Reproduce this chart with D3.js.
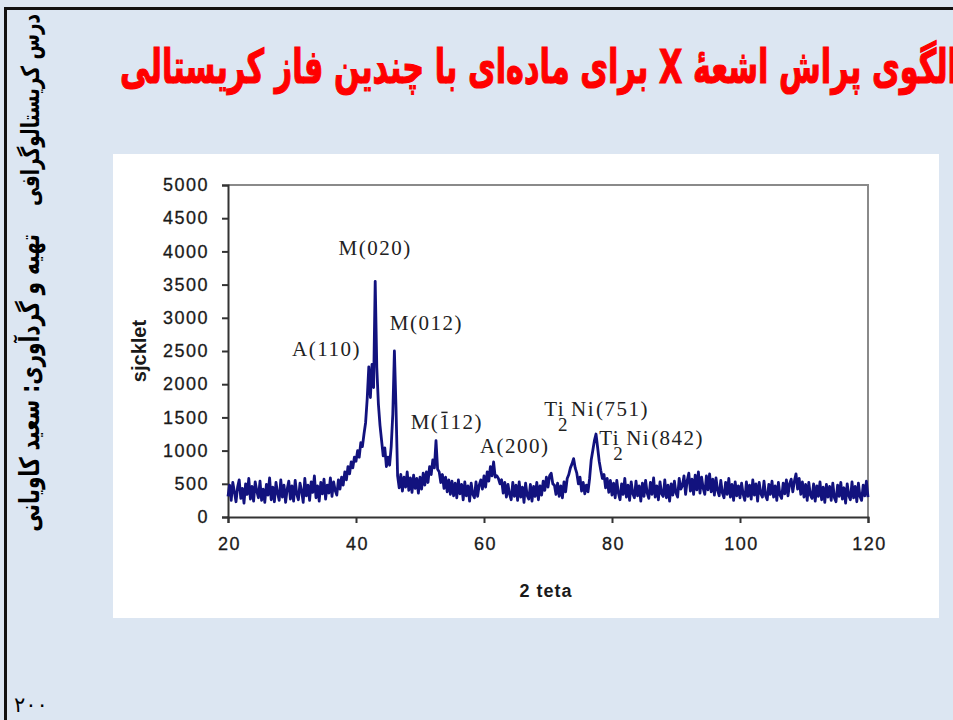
<!DOCTYPE html>
<html>
<head>
<meta charset="utf-8">
<script src="https://cdn.jsdelivr.net/npm/d3@7"></script>
<style>
  html, body { margin: 0; padding: 0; background: #dce6f2; }
  svg { display: block; }
</style>
</head>
<body>
<svg id="slide" width="953" height="720"></svg>
<script>
// ---- Scan data: 2θ from 20° to 120°, step 0.25° ----
const scanStart = 20;
const scanStep = 0.25;
const intensity = [
  // 20 – 24.75
  310, 480, 250, 520, 380, 230, 450, 560, 280, 430, 210, 500, 340, 580, 270, 460, 240, 530, 390, 290,
  // 25 – 29.75
  540, 250, 420, 220, 490, 330, 590, 260, 450, 230, 520, 360, 250, 560, 300, 480, 220, 420, 540, 270,
  // 30 – 34.75
  470, 240, 550, 340, 260, 510, 390, 220, 580, 320, 480, 250, 530, 370, 620, 290, 470, 240, 520, 350,
  // 35 – 39.75
  570, 270, 480, 360, 590, 310, 530, 400, 330, 560, 420, 600, 480, 680, 560, 760, 650, 830, 740, 900,
  // 40 – 44.75
  840, 1000, 900, 1120, 1060, 1250, 1420, 1780, 2260, 1800, 2300, 1950, 3550, 2250, 1700, 1380, 1150, 920, 1040, 760,
  // 45 – 49.75
  900, 780, 1060, 1550, 2500, 1650, 620, 440, 640, 390, 600, 450, 680, 400, 590, 370, 630, 430, 580, 360,
  // 50 – 54.75
  600, 420, 660, 480, 680, 520, 760, 640, 860, 740, 1150, 720, 680, 520, 640, 430, 600, 380, 560, 340,
  // 55 – 59.75
  540, 320, 510, 290, 560, 350, 490, 260, 530, 320, 470, 240, 510, 340, 290, 530, 310, 480, 560, 420,
  // 60 – 64.75
  620, 450, 680, 540, 760, 620, 830, 600, 620, 580, 500, 560, 360, 520, 300, 490, 340, 260, 520, 310,
  // 65 – 69.75
  480, 250, 530, 300, 450, 220, 510, 320, 270, 490, 240, 460, 310, 520, 260, 470, 330, 540, 400, 600,
  // 70 – 74.75
  450, 620, 660, 500, 480, 340, 510, 310, 470, 290, 530, 380, 580, 640, 740, 800, 880, 740, 660, 500,
  // 75 – 79.75
  600, 390, 520, 350, 480, 380, 580, 860, 1000, 1150, 1250, 1050, 840, 700, 580, 640, 440, 580, 370, 550,
  // 80 – 84.75
  330, 510, 290, 550, 360, 260, 500, 340, 580, 300, 480, 250, 530, 350, 290, 540, 320, 470, 240, 510,
  // 85 – 89.75
  310, 550, 360, 280, 520, 340, 590, 300, 470, 260, 530, 350, 310, 560, 290, 480, 240, 500, 330, 540,
  // 90 – 94.75
  360, 300, 580, 420, 470, 620, 340, 550, 660, 390, 570, 340, 630, 410, 680, 360, 600, 430, 340, 620,
  // 95 – 99.75
  410, 650, 380, 570, 330, 590, 400, 320, 550, 360, 290, 520, 340, 580, 300, 490, 250, 530, 320, 470,
  // 100 – 104.75
  290, 510, 340, 250, 530, 310, 480, 270, 560, 330, 500, 240, 520, 350, 300, 540, 320, 260, 490, 340,
  // 105 – 109.75
  540, 300, 470, 250, 520, 330, 280, 510, 350, 560, 320, 500, 570, 380, 540, 650, 420, 580, 340, 530,
  // 110 – 114.75
  300, 490, 250, 520, 330, 280, 500, 240, 470, 310, 530, 260, 450, 220, 490, 300, 460, 250, 510, 290,
  // 115 – 119.75
  230, 480, 310, 520, 270, 440, 210, 500, 320, 260, 530, 290, 460, 230, 510, 310, 250, 480, 320, 540,
  // 120
  300
];

const xTicks = [20, 40, 60, 80, 100, 120];
const yTicks = [0, 500, 1000, 1500, 2000, 2500, 3000, 3500, 4000, 4500, 5000];

// Peak labels: text, and the 2θ / intensity of the label's anchor point
const peakLabels = ["A(110)", "M(020)", "M(012)", "M(112)", "A(200)"];
const peakLabelX = [35.4, 43.0, 51.0, 54.2, 64.8];
const peakLabelY = [2530, 4050, 2920, 1430, 1070];
const phaseLabels = ["(751)", "(842)"];
const phaseLabelX = [69.4, 78.0];
const phaseLabelY = [1630, 1190];

const titleText = "الگوی پراش اشعهٔ X برای ماده‌ای با چندین فاز کریستالی";
const sideCourse = "درس کریستالوگرافی";
const sideAuthor = "تهیه و گردآوری: سعید کاویانی";
const pageNumber = "۲۰۰";
const xLabel = "2 teta";
const yLabel = "sjcklet";

// ---- Slide ----
const svg = d3.select("#slide");

svg.append("rect").attr("width", 953).attr("height", 720).attr("fill", "#dce6f2");
// slide frame
svg.append("line").attr("x1", 5).attr("x2", 953).attr("y1", 8.5).attr("y2", 8.5)
  .attr("stroke", "#111").attr("stroke-width", 3);
svg.append("line").attr("x1", 5.5).attr("x2", 5.5).attr("y1", 7).attr("y2", 720)
  .attr("stroke", "#111").attr("stroke-width", 3);

// title: bold red, stretched vertically, right end running off the slide
const titleG = svg.append("g").attr("transform", "translate(958,83) scale(1,1.55)");
const title = titleG.append("text")
  .attr("direction", "rtl")
  .attr("text-anchor", "start")
  .attr("fill", "#ff0000")
  .attr("stroke", "#ff0000")
  .attr("stroke-width", 0.8)
  .attr("font-family", "DejaVu Sans")
  .attr("font-weight", "bold")
  .attr("font-size", 34)
  .text(titleText);
{
  const w = title.node().getComputedTextLength();
  title.attr("font-size", 34 * 838 / w);
}

// side texts, rotated so the start of each line sits at the top
function sideTextTop(str, yTop, yBottom) {
  const len = yBottom - yTop;
  const g = svg.append("g").attr("transform", `translate(39,${yTop}) rotate(-90) scale(1,1.35)`);
  const t = g.append("text")
    .attr("direction", "rtl")
    .attr("text-anchor", "start")
    .attr("font-family", "DejaVu Sans")
    .attr("font-weight", "bold")
    .attr("font-size", 16)
    .attr("fill", "#000")
    .text(str);
  const w = t.node().getComputedTextLength();
  t.attr("font-size", 16 * len / w);
}
sideTextTop(sideCourse, 14, 206);
sideTextTop(sideAuthor, 234, 532);

svg.append("text")
  .attr("x", 14).attr("y", 712)
  .attr("font-family", "DejaVu Sans")
  .attr("font-size", 21)
  .attr("letter-spacing", 7)
  .attr("fill", "#000")
  .text(pageNumber);

// ---- Chart panel ----
svg.append("rect").attr("x", 113).attr("y", 154).attr("width", 826).attr("height", 464)
  .attr("fill", "#ffffff");

const x = d3.scaleLinear().domain([20, 120]).range([228, 868]);
const y = d3.scaleLinear().domain([0, 5000]).range([517, 185]);

// plot frame
svg.append("path")
  .attr("d", `M${x(20)},${y(5000)}H${x(120)}V${y(0)}`)
  .attr("fill", "none").attr("stroke", "#8a8a8a").attr("stroke-width", 2);

const axisFont = "Liberation Sans";

const yAxis = svg.append("g")
  .attr("transform", `translate(${x(20)},0)`)
  .call(d3.axisLeft(y).tickValues(yTicks).tickSize(6).tickPadding(13).tickFormat(d3.format("d")));
const xAxis = svg.append("g")
  .attr("transform", `translate(0,${y(0)})`)
  .call(d3.axisBottom(x).tickValues(xTicks).tickSize(6).tickPadding(14).tickFormat(d3.format("d")));

[yAxis, xAxis].forEach(a => {
  a.select(".domain").attr("stroke", "#333").attr("stroke-width", 2);
  a.selectAll(".tick line").attr("stroke", "#333").attr("stroke-width", 2);
  a.selectAll(".tick text")
    .attr("font-family", axisFont)
    .attr("font-size", 18)
    .attr("letter-spacing", 1.5)
    .attr("stroke", "#1a1a1a")
    .attr("stroke-width", 0.3)
    .attr("fill", "#1a1a1a");
});
xAxis.selectAll(".tick text").attr("dx", 1);

svg.append("text")
  .attr("x", 546).attr("y", 597)
  .attr("text-anchor", "middle")
  .attr("font-family", axisFont)
  .attr("font-weight", "bold")
  .attr("font-size", 18)
  .attr("letter-spacing", 1)
  .attr("fill", "#1a1a1a")
  .text(xLabel);

svg.append("text")
  .attr("transform", `translate(146,351) rotate(-90)`)
  .attr("text-anchor", "middle")
  .attr("font-family", axisFont)
  .attr("font-weight", "bold")
  .attr("font-size", 20)
  .attr("fill", "#1a1a1a")
  .text(yLabel);

// ---- Diffraction pattern ----
const points = intensity.map((v, i) => [scanStart + i * scanStep, v]);
svg.append("path")
  .datum(points)
  .attr("fill", "none")
  .attr("stroke", "#12127e")
  .attr("stroke-width", 2.8)
  .attr("stroke-linejoin", "round")
  .attr("d", d3.line().x(d => x(d[0])).y(d => y(d[1])));

// ---- Peak annotations ----
const serif = "Liberation Serif";
peakLabels.forEach((txt, i) => {
  const t = svg.append("text")
    .attr("x", x(peakLabelX[i])).attr("y", y(peakLabelY[i]))
    .attr("dy", "0.35em")
    .attr("text-anchor", "middle")
    .attr("font-family", serif)
    .attr("font-size", 21)
    .attr("letter-spacing", 1.5)
    .attr("fill", "#222")
    .text(txt);
  if (txt === "M(112)") {
    // bar over the first index digit
    const box = t.node().getExtentOfChar(2);
    svg.append("line")
      .attr("x1", box.x + 2).attr("x2", box.x + box.width - 3)
      .attr("y1", box.y + 2).attr("y2", box.y + 2)
      .attr("stroke", "#222").attr("stroke-width", 1.5);
  }
});

// Ti2Ni labels with a lowered index
phaseLabels.forEach((txt, i) => {
  const t = svg.append("text")
    .attr("x", x(phaseLabelX[i])).attr("y", y(phaseLabelY[i]) + 7)
    .attr("font-family", serif)
    .attr("font-size", 21)
    .attr("letter-spacing", 1.5)
    .attr("fill", "#222");
  t.append("tspan").text("Ti");
  t.append("tspan").attr("dx", -7).attr("dy", 15).attr("font-size", 19).text("2");
  t.append("tspan").attr("dx", 2).attr("dy", -15).text("Ni");
  t.append("tspan").attr("dx", 1).text(txt);
});
</script>
</body>
</html>
